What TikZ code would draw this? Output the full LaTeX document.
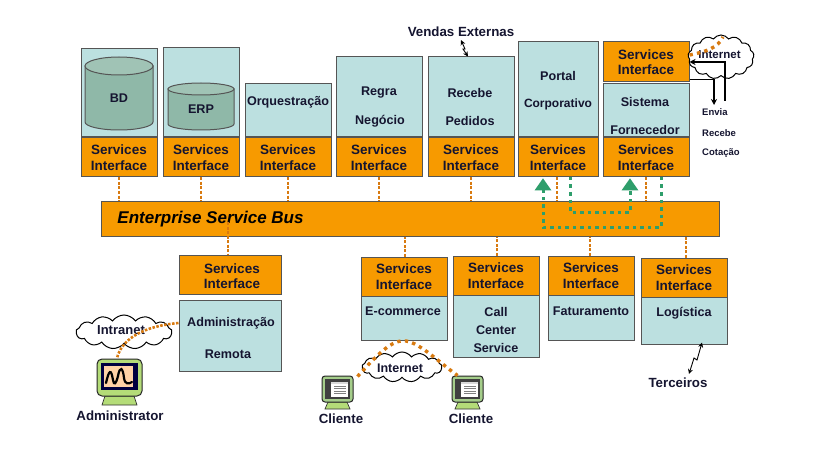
\documentclass[tikz,border=0pt]{standalone}
\usepackage{fontspec}
\setmainfont{Liberation Sans}
\usetikzlibrary{shapes.symbols,shapes.geometric,arrows.meta}
\definecolor{bluebox}{HTML}{BCE0E0}
\definecolor{orbox}{HTML}{F79A00}
\definecolor{edgegray}{HTML}{555555}
\definecolor{cyl}{HTML}{8FB8A8}
\definecolor{link}{HTML}{D87A10}
\definecolor{grn}{HTML}{2E9E6B}
\definecolor{txtc}{HTML}{151530}
\definecolor{lime}{HTML}{B4DC78}
\tikzset{
  boxbase/.style={draw=edgegray,line width=1pt,inner sep=0pt,align=center,text=txtc},
  bluenode/.style={boxbase,fill=bluebox},
  ornode/.style={boxbase,fill=orbox,font=\fontsize{13.5}{15.5}\selectfont\bfseries},
  busnode/.style={boxbase,fill=orbox},
  txt/.style={inner sep=0pt,text=txtc,font=\fontsize{13.3}{15.5}\selectfont\bfseries},
  boxtxt/.style={inner sep=0pt,text=txtc,font=\fontsize{12.6}{15}\selectfont\bfseries},
  small/.style={inner sep=0pt,text=txtc,font=\fontsize{9.5}{12}\selectfont\bfseries},
  cloudnode/.style={cloud,draw=black,line width=1pt,fill=white,cloud puffs=13,cloud puff arc=110,inner sep=0pt,text=txtc,font=\fontsize{13.5}{15}\selectfont\bfseries},
  orlink/.style={draw=link,line width=2.8pt,dash pattern=on 3pt off 1.5pt},
  ordots/.style={draw=link,line width=3.4pt,dash pattern=on 3.4pt off 4.2pt},
  grlink/.style={draw=grn,line width=3pt,dash pattern=on 3.5pt off 4pt},
  grhead/.style={fill=grn,draw=none,isosceles triangle,isosceles triangle apex angle=70,shape border rotate=90,inner sep=0pt,minimum height=12pt,minimum width=15pt},
  blk/.style={draw=black,line width=1.2pt},
  zig/.style={draw=black,line width=0.9pt,{Stealth[length=5pt,width=5pt]}-{Stealth[length=5pt,width=5pt]}},
}
% name, style, x1,y1,x2,y2, text
\newcommand{\bx}[7]{%
  \pgfmathsetmacro{\bxw}{#5-#3}\pgfmathsetmacro{\bxh}{#6-#4}%
  \pgfmathsetmacro{\bxcx}{(#3+#5)/2}\pgfmathsetmacro{\bxcy}{(#4+#6)/2}%
  \node[#2,minimum width=\bxw pt,minimum height=\bxh pt] (#1) at (\bxcx,\bxcy) {#7};}
\newcommand{\si}{\raisebox{-1pt}{Services}\\\raisebox{-1pt}{Interface}}
\newcommand{\sib}{Services\\Interface}
% cylinder: x1,x2,top centre,bottom centre,top rim ry,bottom rim ry
\newcommand{\cyld}[6]{%
  \pgfmathsetmacro{\cx}{(#1+#2)/2}\pgfmathsetmacro{\rx}{(#2-#1)/2}%
  \filldraw[fill=cyl,draw=edgegray,line width=1pt] (#1,#3) -- (#1,#4) arc[start angle=180,end angle=360,x radius=\rx pt,y radius=#6 pt] -- (#2,#3) -- cycle;
  \filldraw[fill=cyl!85!white,draw=edgegray,line width=1pt] (\cx,#3) ellipse[x radius=\rx pt,y radius=#5 pt];
}
% small client monitor: name, x1, y1
\newcommand{\clientmon}[3]{%
  \begin{scope}[shift={(#2,#3)}]
  \filldraw[fill=lime,draw=black!80,line width=.7pt] (6,26) -- (3,33) -- (28,33) -- (25,26) -- cycle;
  \node[draw=black!85,line width=1pt,fill=lime!60!cyl,rounded corners=3pt,minimum width=31pt,minimum height=26pt,inner sep=0pt] (#1) at (15.5,13) {};
  \fill[black!75] (3,3) rectangle (28,23);
  \fill[white] (9,6) rectangle (26,21);
  \fill[black!15] (9,6) rectangle (26,8);
  \foreach \yy in {10,12.5,15,17.5} \draw[black!50,line width=.7pt] (12,\yy) -- (24,\yy);
  \end{scope}}
\begin{document}
\begin{tikzpicture}[x=1pt,y=-1pt]
\useasboundingbox (0,0) rectangle (833,468);
\fill[white] (0,0) rectangle (833,468);

\bx{esb}{busnode}{101}{201}{719}{236}{}
\node[inner sep=0pt,text=black,font=\fontsize{17}{18}\selectfont\bfseries\itshape] (esbt) at (210.5,219.5) {Enterprise Service Bus};

% top row
\bx{bd}{bluenode}{81}{49}{157}{137}{}
\bx{erp}{bluenode}{163}{48}{239}{137}{}
\bx{orq}{bluenode}{245}{84}{331}{137}{}
\bx{reg}{bluenode}{336}{57}{422}{137}{}
\bx{rec}{bluenode}{428}{57}{514}{137}{}
\bx{por}{bluenode}{518}{42}{598}{137}{}
\bx{sis}{bluenode}{603}{84}{689}{137}{}
\bx{s1}{ornode}{81}{138}{157}{177}{\si}
\bx{s2}{ornode}{163}{138}{239}{177}{\si}
\bx{s3}{ornode}{245}{138}{331}{177}{\si}
\bx{s4}{ornode}{336}{138}{422}{177}{\si}
\bx{s5}{ornode}{428}{138}{514}{177}{\si}
\bx{s6}{ornode}{518}{138}{598}{177}{\si}
\bx{s7}{ornode}{603}{138}{689}{177}{\si}
\bx{s8}{ornode}{603}{42}{689}{82}{\si}

\cyld{85}{153}{66}{122}{9}{8}
\node[boxtxt] (bdt) at (119,98) {BD};
\cyld{168}{234}{89}{124}{6}{6}
\node[boxtxt] (erpt) at (201,109) {ERP};
\node[boxtxt] (orqt) at (288,102) {Orquestração};
\node[boxtxt] (regt) at (379,93) {Regra};
\node[boxtxt] (negt) at (380,121) {Negócio};
\node[boxtxt] (rect) at (470,93) {Recebe};
\node[boxtxt] (pedt) at (470,121) {Pedidos};
\node[boxtxt] (port) at (558,76) {Portal};
\node[boxtxt,font=\fontsize{12}{15}\selectfont\bfseries] (cort) at (558,104) {Corporativo};
\node[boxtxt] (sist) at (645,102) {Sistema};
\node[boxtxt] (fort) at (645,130) {Fornecedor};

% bottom row
\bx{b1}{ornode}{179}{255}{281}{294}{}
\node[ornode,draw=none,fill=none,align=center] (b1t) at (232,276) {\sib};
\bx{adm}{bluenode}{179}{300}{281}{371}{}
\bx{b2}{ornode}{361}{257}{447}{296}{\sib}
\bx{eco}{bluenode}{361}{296}{447}{340}{}
\bx{b3}{ornode}{453}{256}{539}{295}{\si}
\bx{cal}{bluenode}{453}{295}{539}{357}{}
\bx{b4}{ornode}{548}{256}{634}{295}{\sib}
\bx{fat}{bluenode}{548}{295}{634}{340}{}
\bx{b5}{ornode}{641}{258}{727}{297}{\sib}
\bx{log}{bluenode}{641}{297}{727}{344}{}
\node[boxtxt] (admt) at (231,323) {Administração};
\node[boxtxt] (remt) at (228,354) {Remota};
\node[boxtxt] (ecot) at (403,311) {E-commerce};
\node[boxtxt] (calt) at (496,312) {Call};
\node[boxtxt] (cent) at (496,330) {Center};
\node[boxtxt] (sert) at (496,348) {Service};
\node[boxtxt] (fatt) at (591,311) {Faturamento};
\node[boxtxt] (logt) at (684,313) {Logística};

% bus links
\draw[orlink] (s1.south) -- (s1.south |- esb.north);
\draw[orlink] (s2.south) -- (s2.south |- esb.north);
\draw[orlink] (s3.south) -- (s3.south |- esb.north);
\draw[orlink] (s4.south) -- (s4.south |- esb.north);
\draw[orlink] (s5.south) -- (s5.south |- esb.north);
\draw[orlink] ([xshift=-1pt]s6.south) -- ([xshift=-1pt]s6.south |- esb.north);
\draw[orlink] (s7.south) -- (s7.south |- esb.north);
\draw[orlink] (228,222) -- (228,255);
\draw[orlink] ([xshift=1pt]b2.north) -- ([xshift=1pt]b2.north |- esb.south);
\draw[orlink] ([xshift=1pt]b3.north) -- ([xshift=1pt]b3.north |- esb.south);
\draw[orlink] ([xshift=-1pt]b4.north) -- ([xshift=-1pt]b4.north |- esb.south);
\draw[orlink] ([xshift=2pt]b5.north) -- ([xshift=2pt]b5.north |- esb.south);

% green routes
\draw[grlink] (661,177) -- (661,227) -- (543,227) -- (543,190);
\draw[grlink] (570,177) -- (570,212) -- (630,212) -- (630,190);
\node[grhead,anchor=apex] (g1) at (543,178) {};
\node[grhead,anchor=apex] (g2) at (630,178) {};

% top right cloud
\node[cloudnode,minimum width=66pt,minimum height=44pt,aspect=1.5] (c1) at (721,57) {};
\node[inner sep=0pt,text=txtc,font=\fontsize{11.5}{14}\selectfont\bfseries] (c1t) at (719.5,55) {Internet};
\draw[ordots] (s8.east) ++(0,-7) .. controls (705,52) and (718,48) .. (723,37);
\coordinate (e1) at (714,105);
\coordinate (e2) at (725,101);
\draw[blk,-{Stealth[length=6pt,width=6pt]}] (s8.south east) ++(0,-3) -| (e1);
\draw[blk,-{Stealth[length=6pt,width=6pt]}] (e2) |- (s8.east);
\node[small,anchor=west] (t1) at (702,112) {Envia};
\node[small,anchor=west] (t2) at (702,133) {Recebe};
\node[small,anchor=west] (t3) at (702,153) {Cotação};

% Vendas
\node[txt] (ve) at (461,32) {Vendas Externas};
\draw[zig] (ve.south) ++(0,3) -- (465,49) -- (463,49) -- ([xshift=-3pt]rec.north);
% Terceiros
\node[txt] (te) at (678,383) {Terceiros};
\draw[zig] ([xshift=18pt,yshift=2pt]log.south) -- (697,360) -- (694,358) -- (689,374);

% Intranet and admin monitor
\node[cloudnode,minimum width=96pt,minimum height=34pt,aspect=3] (c2) at (124,332) {};
\node[inner sep=0pt,text=txtc,font=\fontsize{13}{14}\selectfont\bfseries] (c2t) at (121,330) {Intranet};
\filldraw[fill=lime,draw=black!80,line width=.7pt] (105,396) -- (102,405) -- (137,405) -- (134,396) -- cycle;
\node[draw=black!85,line width=1pt,fill=lime,rounded corners=5pt,minimum width=45pt,minimum height=37pt,inner sep=0pt] (mon) at (119.5,377.5) {};
\fill[black!75!blue] (101,363) rectangle (138,390);
\fill[orange!35!white] (104,366) rectangle (133,387);
\draw[black,line width=2.2pt,line cap=round] (106,383) .. controls (109,370) and (111,368) .. (113,380) .. controls (114,386) and (116,384) .. (118,376) .. controls (120,365) and (123,368) .. (124,378) .. controls (125,385) and (129,384) .. (132,382);
\node[txt] (adl) at (120,416) {Administrator};
\draw[ordots,line width=2.6pt,dash pattern=on 2.5pt off 1.5pt] (adm.west |- admt) .. controls (145,326) and (122,338) .. (117,358);

% bottom internet
\clientmon{cm1}{322}{376}
\clientmon{cm2}{452}{376}
\node[cloudnode,minimum width=80pt,minimum height=30pt,aspect=3] (c3) at (402,367) {};
\node[inner sep=0pt,text=txtc,font=\fontsize{12.5}{14}\selectfont\bfseries] (c3t) at (400,368) {Internet};
\draw[ordots] (cm1.north east) ++(4,1) .. controls (378,354) and (392,339) .. (406,341) .. controls (420,343) and (440,363) .. ([xshift=6pt]cm2.north west);
\node[txt] (c1l) at (341,419) {Cliente};
\node[txt] (c2l) at (471,419) {Cliente};
\end{tikzpicture}
\end{document}
